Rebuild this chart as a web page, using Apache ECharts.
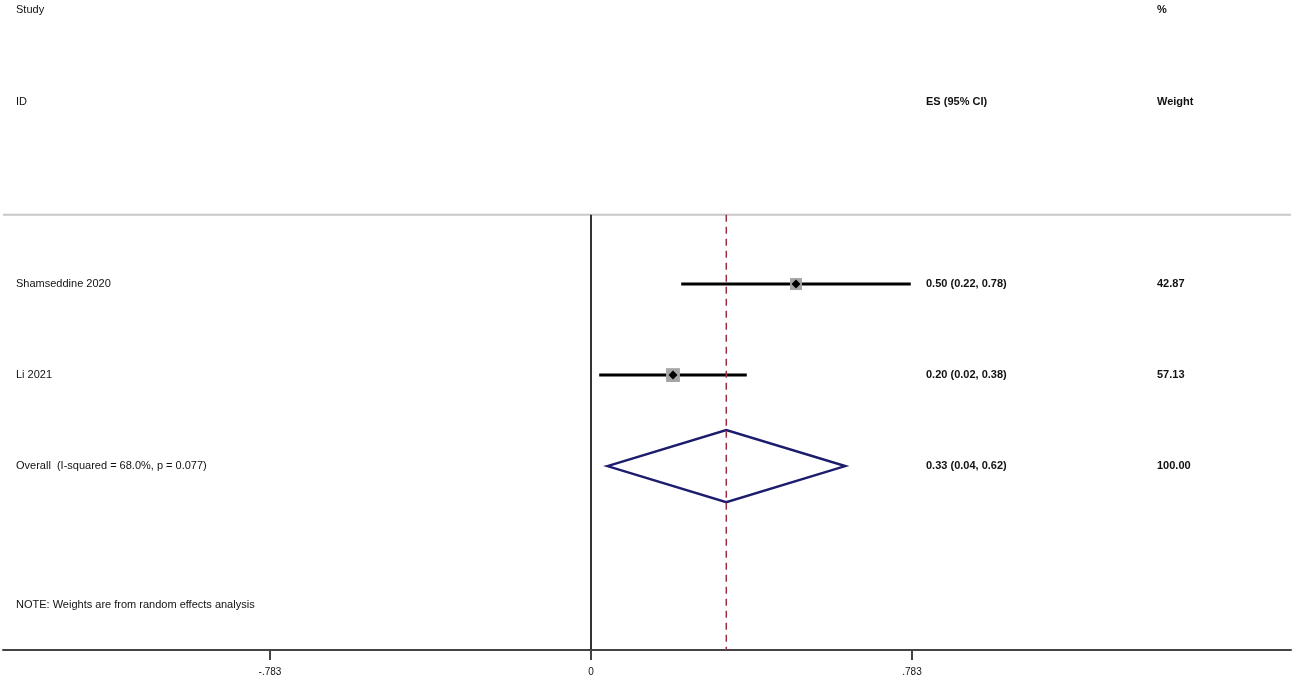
<!DOCTYPE html>
<html>
<head>
<meta charset="utf-8">
<script src="https://cdn.jsdelivr.net/npm/echarts@6/dist/echarts.min.js"></script>
<style>
  html, body { margin: 0; padding: 0; background: #fff; }
  #chart { width: 1299px; height: 686px; }
</style>
</head>
<body>
<div id="chart"></div>
<script>
// study rows
var studies = ['Shamseddine 2020', 'Li 2021'];
var es = [0.50, 0.20];
var ciLow = [0.22, 0.02];
var ciHigh = [0.78, 0.38];
var weights = [42.87, 57.13];

// pooled estimate
var overallLabel = 'Overall  (I-squared = 68.0%, p = 0.077)';
var overallEs = 0.33;
var overallLow = 0.04;
var overallHigh = 0.62;
var overallWeight = 100.00;

var noteText = 'NOTE: Weights are from random effects analysis';

// x axis ticks
var tickValues = [-0.783, 0, 0.783];
var tickLabels = ['-.783', '0', '.783'];

// row slots on the (inverted) y axis
var headerRows = [-2.01, -1.0];
var dividerRow = 0.24;
var noteRow = 4.52;

var FONT = '"Liberation Sans", Arial, sans-serif';
var COL_LABEL = 16, COL_ES = 926, COL_W = 1157;

function fmt(v) { return v.toFixed(2); }

var studyData = [];
for (var i = 0; i < studies.length; i++) {
  studyData.push([es[i], ciLow[i], ciHigh[i], i + 1, weights[i]]);
}

function txt(x, y, s, bold) {
  return {
    type: 'text',
    style: {
      x: x, y: y, text: s,
      font: (bold ? 'bold ' : '') + '11px ' + FONT,
      fill: '#111', textVerticalAlign: 'middle', textAlign: 'left'
    }
  };
}

var chart = echarts.init(document.getElementById('chart'));

var option = {
  animation: false,
  grid: { left: 3, right: 8, top: 0, bottom: 36 },
  xAxis: {
    type: 'value',
    min: -1.4343,
    max: 1.7075,
    splitLine: { show: false },
    axisLine: { show: true, onZero: false, lineStyle: { color: '#444', width: 2 } },
    axisTick: {
      show: true, customValues: tickValues, length: 10,
      lineStyle: { color: '#444', width: 2 }
    },
    axisLabel: {
      customValues: tickValues, margin: 17,
      fontFamily: FONT, fontSize: 10, color: '#111',
      formatter: function (v) {
        for (var k = 0; k < tickValues.length; k++)
          if (Math.abs(v - tickValues[k]) < 1e-6) return tickLabels[k];
        return '';
      }
    }
  },
  yAxis: {
    type: 'value',
    inverse: true,
    min: -2.12,
    max: 5.02,
    show: false
  },
  series: [
    // top divider
    {
      type: 'line', symbol: 'none', silent: true,
      lineStyle: { color: '#c8c8c8', width: 2 },
      data: [[-1.4343, dividerRow], [1.7075, dividerRow]]
    },
    // null line
    {
      type: 'line', symbol: 'none', silent: true,
      lineStyle: { color: '#333', width: 2 },
      data: [[0, dividerRow], [0, 5.02]]
    },
    // pooled estimate dashed line
    {
      type: 'line', symbol: 'none', silent: true,
      lineStyle: { color: '#9e2f42', width: 1.5, type: [7, 5] },
      data: [[overallEs, dividerRow], [overallEs, 5.02]]
    },
    // headers
    {
      type: 'custom', silent: true,
      data: [[0, headerRows[0]], [1, headerRows[1]]],
      renderItem: function (params, api) {
        var y = api.coord([0, api.value(1)])[1];
        if (api.value(0) === 0) {
          return { type: 'group', children: [txt(COL_LABEL, y, 'Study'), txt(COL_W, y, '%', true)] };
        }
        return { type: 'group', children: [txt(COL_LABEL, y, 'ID'), txt(COL_ES, y, 'ES (95% CI)', true), txt(COL_W, y, 'Weight', true)] };
      }
    },
    // studies
    {
      type: 'custom', silent: true,
      data: studyData,
      renderItem: function (params, api) {
        var row = api.value(3);
        var p = api.coord([api.value(0), row]);
        var a = api.coord([api.value(1), row]);
        var b = api.coord([api.value(2), row]);
        var s = 12 * Math.sqrt(api.value(4) / 42.87);
        var d = 4.5;
        return {
          type: 'group',
          children: [
            { type: 'line', shape: { x1: a[0], y1: a[1], x2: b[0], y2: b[1] }, style: { stroke: '#000', lineWidth: 3 } },
            { type: 'rect', shape: { x: p[0] - s / 2, y: p[1] - s / 2, width: s, height: s }, style: { fill: '#a6a6a6' } },
            { type: 'polygon', shape: { points: [[p[0] - d, p[1]], [p[0], p[1] - d], [p[0] + d, p[1]], [p[0], p[1] + d]] }, style: { fill: '#000' } },
            txt(COL_LABEL, p[1], studies[params.dataIndex]),
            txt(COL_ES, p[1], fmt(api.value(0)) + ' (' + fmt(api.value(1)) + ', ' + fmt(api.value(2)) + ')', true),
            txt(COL_W, p[1], fmt(api.value(4)), true)
          ]
        };
      }
    },
    // overall diamond
    {
      type: 'custom', silent: true,
      data: [[overallEs, overallLow, overallHigh, 3, overallWeight]],
      renderItem: function (params, api) {
        var row = api.value(3);
        var p = api.coord([api.value(0), row]);
        var a = api.coord([api.value(1), row]);
        var b = api.coord([api.value(2), row]);
        var h = 36;
        return {
          type: 'group',
          children: [
            {
              type: 'polygon',
              shape: { points: [[a[0], p[1]], [p[0], p[1] - h], [b[0], p[1]], [p[0], p[1] + h]] },
              style: { fill: 'none', stroke: '#1c1c6e', lineWidth: 2.5 }
            },
            txt(COL_LABEL, p[1], overallLabel),
            txt(COL_ES, p[1], fmt(api.value(0)) + ' (' + fmt(api.value(1)) + ', ' + fmt(api.value(2)) + ')', true),
            txt(COL_W, p[1], fmt(api.value(4)), true)
          ]
        };
      }
    },
    // note
    {
      type: 'custom', silent: true,
      data: [[0, noteRow]],
      renderItem: function (params, api) {
        var y = api.coord([0, api.value(1)])[1];
        return txt(COL_LABEL, y, noteText);
      }
    }
  ]
};

chart.setOption(option);
</script>
</body>
</html>
